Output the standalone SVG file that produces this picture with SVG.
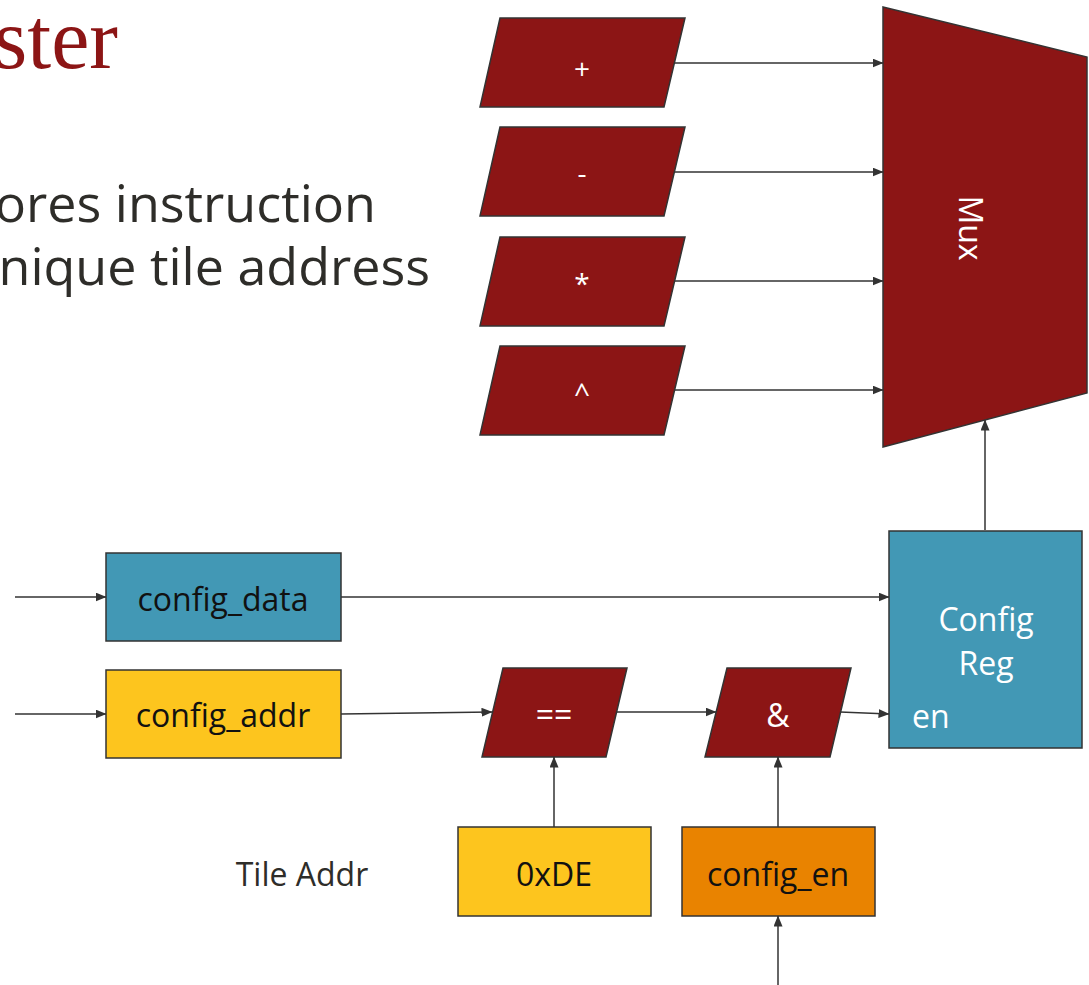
<svg xmlns="http://www.w3.org/2000/svg" width="1089" height="985" viewBox="0 0 1089 985">
  <style>
    .title { font-family: "Liberation Serif", "DejaVu Serif", serif; font-size: 86px; fill: #8C1515; }
    .body { font-family: "Open Sans", "Liberation Sans", sans-serif; font-size: 52px; fill: #2E2D29; }
    .lbl { font-family: "Open Sans", "Liberation Sans", sans-serif; font-size: 32px; text-anchor: middle; }
    .dark { fill: #111; }
    .light { fill: #fff; }
    .op { font-family: "Open Sans", "Liberation Sans", sans-serif; font-size: 28px; text-anchor: middle; fill: #fff; }
    .red { fill: #8C1515; stroke: #333; stroke-width: 1.5; }
    .teal { fill: #4298B5; stroke: #333; stroke-width: 1.5; }
    .yellow { fill: #FDC51E; stroke: #333; stroke-width: 1.5; }
    .orange { fill: #E98300; stroke: #333; stroke-width: 1.5; }
    .wire { fill: none; stroke: #333; stroke-width: 1.5; marker-end: url(#arrow); }
  </style>
  <defs>
    <marker id="arrow" markerUnits="userSpaceOnUse" markerWidth="11" markerHeight="9" refX="10.5" refY="4.5" orient="auto">
      <path d="M0,0 L11,4.5 L0,9 z" fill="#333"/>
    </marker>
  </defs>

  <rect width="1089" height="985" fill="#fff"/>

  <!-- slide heading and bullet text, partly off the left edge -->
  <text class="title" x="118" y="68" text-anchor="end">ster</text>
  <text class="body" x="376" y="222" text-anchor="end">ores instruction</text>
  <text class="body" x="430" y="285" text-anchor="end">nique tile address</text>

  <!-- connectors -->
  <g id="connectors">
    <line class="wire" x1="674" y1="63" x2="883" y2="63"/>
    <line class="wire" x1="674" y1="172" x2="883" y2="172"/>
    <line class="wire" x1="674" y1="281" x2="883" y2="281"/>
    <line class="wire" x1="674" y1="390" x2="883" y2="390"/>
    <line class="wire" x1="985" y1="530" x2="985" y2="420"/>
    <line class="wire" x1="15" y1="597" x2="106" y2="597"/>
    <line class="wire" x1="15" y1="714" x2="106" y2="714"/>
    <line class="wire" x1="341" y1="597" x2="889" y2="597"/>
    <line class="wire" x1="341" y1="714" x2="492" y2="712"/>
    <line class="wire" x1="617" y1="712" x2="716" y2="712"/>
    <line class="wire" x1="840" y1="712" x2="889" y2="714"/>
    <line class="wire" x1="554" y1="827" x2="554" y2="757"/>
    <line class="wire" x1="778" y1="827" x2="778" y2="757"/>
    <line class="wire" x1="778" y1="985" x2="778" y2="916"/>
  </g>

  <!-- operator blocks -->
  <g id="op-add">
    <polygon class="red" points="500,18 685,18 664,107 480,107"/>
    <text class="op" x="582" y="79">+</text>
  </g>
  <g id="op-sub">
    <polygon class="red" points="500,127 685,127 664,216 480,216"/>
    <text class="op" x="582" y="183">-</text>
  </g>
  <g id="op-mul">
    <polygon class="red" points="500,237 685,237 664,326 480,326"/>
    <text class="op" x="582" y="294">*</text>
  </g>
  <g id="op-xor">
    <polygon class="red" points="500,346 685,346 664,435 480,435"/>
    <text class="op" x="582" y="403">^</text>
  </g>

  <!-- multiplexer -->
  <g id="mux">
    <polygon class="red" points="883,7 1087,57 1087,393 883,447"/>
    <text class="lbl light" transform="translate(971,228) rotate(90)" dominant-baseline="central" font-size="31">Mux</text>
  </g>

  <!-- configuration register -->
  <g id="config-reg">
    <rect class="teal" x="889" y="531" width="193" height="217"/>
    <text class="lbl light" x="986" y="631">Config</text>
    <text class="lbl light" x="986" y="675">Reg</text>
    <text class="lbl light" x="912" y="728" style="text-anchor:start">en</text>
  </g>

  <!-- inputs -->
  <g id="config-data">
    <rect class="teal" x="106" y="553" width="235" height="88"/>
    <text class="lbl dark" x="223" y="611">config_data</text>
  </g>
  <g id="config-addr">
    <rect class="yellow" x="106" y="670" width="235" height="88"/>
    <text class="lbl dark" x="223" y="727">config_addr</text>
  </g>

  <!-- address compare and enable gate -->
  <g id="cmp-eq">
    <polygon class="red" points="503,668 627,668 606,757 482,757"/>
    <text class="lbl light" x="554" y="726">==</text>
  </g>
  <g id="and-en">
    <polygon class="red" points="727,668 851,668 830,757 705,757"/>
    <text class="lbl light" x="778" y="727">&amp;</text>
  </g>

  <!-- tile address constant and enable input -->
  <g id="tile-addr-label">
    <text class="lbl" x="302" y="886" fill="#2E2D29">Tile Addr</text>
  </g>
  <g id="tile-addr">
    <rect class="yellow" x="458" y="827" width="193" height="89"/>
    <text class="lbl dark" x="554" y="886">0xDE</text>
  </g>
  <g id="config-en">
    <rect class="orange" x="682" y="827" width="193" height="89"/>
    <text class="lbl dark" x="778" y="886">config_en</text>
  </g>
</svg>
